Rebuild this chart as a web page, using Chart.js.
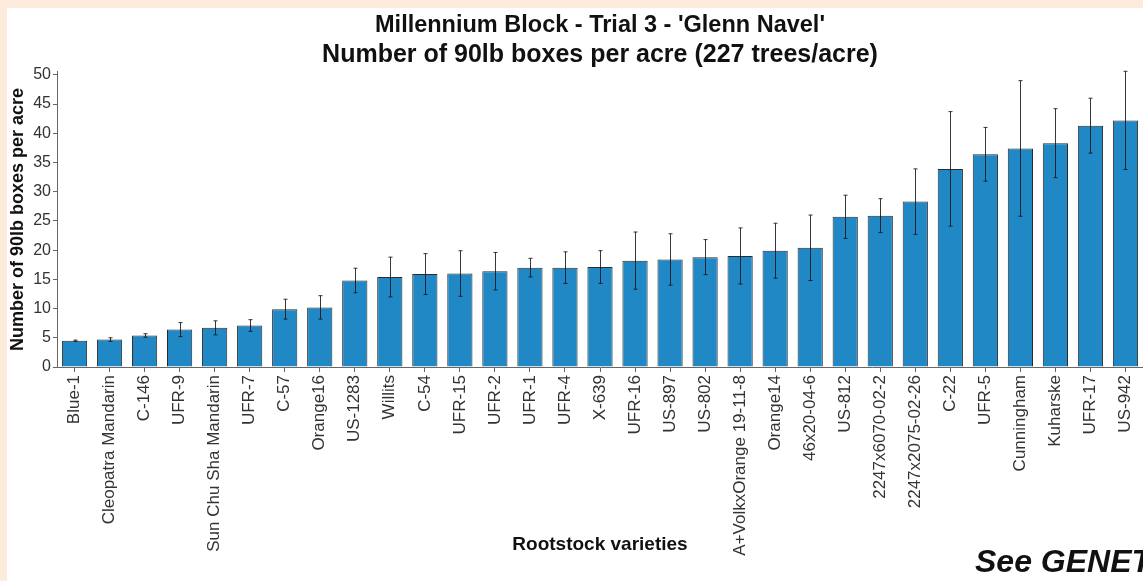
<!DOCTYPE html>
<html>
<head>
<meta charset="utf-8">
<script src="https://cdn.jsdelivr.net/npm/chart.js@4"></script>
<style>
  html, body { margin: 0; padding: 0; background: #fdebdc; width: 1143px; height: 581px; overflow: hidden; }
  #wrap { position: absolute; left: 7px; top: 8px; width: 1136px; height: 573px; background: #ffffff; }
  canvas { display: block; }
</style>
</head>
<body>
<div id="wrap"><canvas id="c" width="1136" height="573"></canvas></div>
<script>
const categories = ["Blue-1","Cleopatra Mandarin","C-146","UFR-9","Sun Chu Sha Mandarin","UFR-7","C-57","Orange16","US-1283","Willits","C-54","UFR-15","UFR-2","UFR-1","UFR-4","X-639","UFR-16","US-897","US-802","A+VolkxOrange 19-11-8","Orange14","46x20-04-6","US-812","2247x6070-02-2","2247x2075-02-26","C-22","UFR-5","Cunningham","Kuharske","UFR-17","US-942"];
const boxesPerAcre = [4.5,4.7,5.4,6.4,6.7,7.1,9.9,10.2,14.8,15.4,15.9,16.0,16.4,17.0,17.0,17.1,18.2,18.4,18.8,19.0,19.9,20.4,25.7,25.9,28.3,33.9,36.4,37.4,38.3,41.3,42.2];
const errorValues = [0.1,0.3,0.3,1.2,1.2,1.0,1.7,2.0,2.1,3.4,3.5,3.9,3.2,1.6,2.7,2.8,4.9,4.4,3.0,4.8,4.7,5.6,3.7,2.9,5.6,9.8,4.6,11.6,5.9,4.7,8.4];
const yTicks = [0,5,10,15,20,25,30,35,40,45,50];
const titleLine1 = "Millennium Block - Trial 3 - 'Glenn Navel'";
const titleLine2 = "Number of 90lb boxes per acre (227 trees/acre)";
const yTitle = "Number of 90lb boxes per acre";
const xTitle = "Rootstock varieties";
const footnote = "See GENET";

const FONT = "'Liberation Sans', Arial, sans-serif";

const errorBars = {
  id: 'errorBars',
  afterDatasetsDraw(chart) {
    const ctx = chart.ctx, xs = chart.scales.x, ys = chart.scales.y;
    ctx.save();
    ctx.strokeStyle = 'rgba(20,20,20,0.85)';
    ctx.lineWidth = 1;
    boxesPerAcre.forEach((v, i) => {
      const e = errorValues[i];
      const x = Math.round(xs.getPixelForValue(i)) + 0.5;
      const yt = ys.getPixelForValue(v + e);
      const yb = ys.getPixelForValue(v - e);
      ctx.beginPath();
      ctx.moveTo(x, yt); ctx.lineTo(x, yb);
      ctx.moveTo(x - 2, yt); ctx.lineTo(x + 2, yt);
      ctx.moveTo(x - 2, yb); ctx.lineTo(x + 2, yb);
      ctx.stroke();
    });
    ctx.restore();
  }
};

const footnotePlugin = {
  id: 'footnote',
  afterDraw(chart) {
    const ctx = chart.ctx;
    ctx.save();
    ctx.font = "italic bold 32px " + FONT;
    ctx.fillStyle = '#111';
    ctx.textBaseline = 'alphabetic';
    ctx.textAlign = 'left';
    ctx.fillText(footnote, 968, 564);
    ctx.restore();
  }
};

new Chart(document.getElementById('c'), {
  type: 'bar',
  data: {
    labels: categories,
    datasets: [{
      data: boxesPerAcre,
      backgroundColor: '#2188c6',
      borderColor: '#2b2b2b',
      borderWidth: 1,
      barPercentage: 0.72,
      categoryPercentage: 1.0
    }]
  },
  options: {
    responsive: false,
    animation: false,
    devicePixelRatio: 1,
    layout: { padding: { left: 0, right: 0, top: 0, bottom: 0 } },
    plugins: {
      legend: { display: false },
      tooltip: { enabled: false },
      title: {
        display: true,
        fullSize: false,
        text: titleLine1,
        color: '#111',
        font: { family: FONT, size: 23.5, weight: 'bold', lineHeight: 1.25 },
        padding: { top: 3, bottom: 0 }
      },
      subtitle: {
        display: true,
        fullSize: false,
        text: titleLine2,
        color: '#111',
        font: { family: FONT, size: 25, weight: 'bold', lineHeight: 1.2 },
        padding: { top: 0, bottom: 1.5 }
      }
    },
    scales: {
      x: {
        offset: true,
        grid: { display: true, drawOnChartArea: false, drawTicks: true, tickLength: 5, color: '#666', offset: false },
        border: { display: true, color: '#666', width: 1 },
        ticks: {
          minRotation: 90, maxRotation: 90, autoSkip: false, padding: 3,
          color: '#333', font: { family: FONT, size: 17 }
        },
        title: {
          display: true, text: xTitle, color: '#111',
          font: { family: FONT, size: 19, weight: 'bold' },
          padding: { top: 0, bottom: 25 }
        },
        afterFit(scale) { scale.height = 214; scale.paddingLeft = 0; scale.paddingRight = 0; }
      },
      y: {
        min: 0, max: 50.5,
        afterBuildTicks(scale) { scale.ticks = yTicks.map(v => ({ value: v })); },
        grid: { display: true, drawOnChartArea: false, drawTicks: true, tickLength: 4, color: '#666' },
        border: { display: true, color: '#666', width: 1 },
        ticks: { color: '#333', padding: 2, font: { family: FONT, size: 16 } },
        title: {
          display: true, text: yTitle, color: '#111',
          font: { family: FONT, size: 18, weight: 'bold' },
          padding: { top: 0, bottom: 0 }
        },
        afterFit(scale) { scale.width = 50; }
      }
    }
  },
  plugins: [errorBars, footnotePlugin]
});
</script>
</body>
</html>
